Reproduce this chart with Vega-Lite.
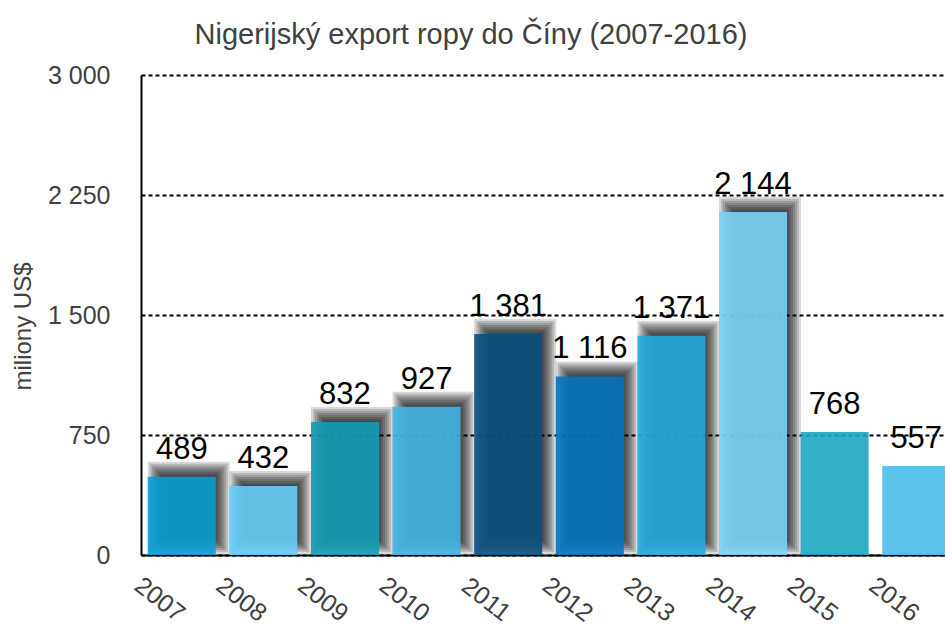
{
  "$schema": "https://vega.github.io/schema/vega-lite/v6.json",
  "width": 804,
  "height": 480,
  "autosize": {"type": "none"},
  "padding": {"left": 141, "top": 75, "right": 0, "bottom": 71},
  "background": "white",
  "title": {
    "text": "Nigerijský export ropy do Číny (2007-2016)",
    "anchor": "middle",
    "frame": "group",
    "dx": -72,
    "dy": 38,
    "offset": 28,
    "baseline": "alphabetic",
    "font": "Liberation Sans",
    "fontSize": 29,
    "fontWeight": "normal",
    "color": "#404040"
  },
  "data": {
    "values": [
      {"year": 2007, "value": 489},
      {"year": 2008, "value": 432},
      {"year": 2009, "value": 832},
      {"year": 2010, "value": 927},
      {"year": 2011, "value": 1381},
      {"year": 2012, "value": 1116},
      {"year": 2013, "value": 1371},
      {"year": 2014, "value": 2144},
      {"year": 2015, "value": 768},
      {"year": 2016, "value": 557}
    ]
  },
  "encoding": {
    "x": {
      "field": "year",
      "type": "ordinal",
      "scale": {"range": [0, 816], "paddingInner": 0.167, "paddingOuter": 0.083},
      "axis": {
        "title": null,
        "labelAngle": 38,
        "labelAlign": "center",
        "labelBaseline": "middle",
        "labelPadding": 44,
        "labelOffset": -22,
        "ticks": false,
        "grid": false,
        "domainColor": "black",
        "domainWidth": 2,
        "labelFont": "Liberation Sans",
        "labelFontSize": 25,
        "labelColor": "#404040"
      }
    },
    "y": {
      "field": "value",
      "type": "quantitative",
      "scale": {"domain": [0, 3000], "nice": false},
      "axis": {
        "values": [0, 750, 1500, 2250, 3000],
        "format": ",d",
        "grid": true,
        "gridColor": "black",
        "gridDash": [4, 3],
        "gridWidth": 2,
        "domain": true,
        "domainColor": "black",
        "domainWidth": 2,
        "ticks": false,
        "labelFont": "Liberation Sans",
        "labelFontSize": 25,
        "labelColor": "#404040",
        "labelPadding": 31,
        "title": "miliony US$",
        "titleFont": "Liberation Sans",
        "titleFontSize": 24,
        "titleFontWeight": "normal",
        "titleColor": "#404040",
        "titleX": -118,
        "titleY": 251,
        "titleAngle": 270,
        "titleAlign": "center",
        "titleBaseline": "middle"
      }
    }
  },
  "layer": [
    {
      "transform": [{"filter": "datum.year <= 2014"}],
      "mark": {"type": "bar", "color": "black", "opacity": 0.15, "width": 82, "xOffset": 7, "yOffset": -15, "y2Offset": -1},
      "encoding": {"y2": {"datum": 0}}
    },
    {
      "transform": [{"filter": "datum.year <= 2014"}],
      "mark": {"type": "bar", "color": "black", "opacity": 0.15, "width": 78, "xOffset": 7, "yOffset": -13, "y2Offset": -3},
      "encoding": {"y2": {"datum": 0}}
    },
    {
      "transform": [{"filter": "datum.year <= 2014"}],
      "mark": {"type": "bar", "color": "black", "opacity": 0.15, "width": 74, "xOffset": 7, "yOffset": -11, "y2Offset": -5},
      "encoding": {"y2": {"datum": 0}}
    },
    {
      "transform": [{"filter": "datum.year <= 2014"}],
      "mark": {"type": "bar", "color": "black", "opacity": 0.15, "width": 70, "xOffset": 7, "yOffset": -9, "y2Offset": -7},
      "encoding": {"y2": {"datum": 0}}
    },
    {
      "transform": [{"filter": "datum.year <= 2014"}],
      "mark": {"type": "bar", "color": "black", "opacity": 0.15, "width": 66, "xOffset": 7, "yOffset": -7, "y2Offset": -9},
      "encoding": {"y2": {"datum": 0}}
    },
    {
      "transform": [{"filter": "datum.year <= 2014"}],
      "mark": {"type": "bar", "color": "black", "opacity": 0.15, "width": 62, "xOffset": 7, "yOffset": -5, "y2Offset": -11},
      "encoding": {"y2": {"datum": 0}}
    },
    {
      "transform": [{"filter": "datum.year <= 2014"}],
      "mark": {"type": "bar", "color": "black", "opacity": 0.15, "width": 58, "xOffset": 7, "yOffset": -3, "y2Offset": -13},
      "encoding": {"y2": {"datum": 0}}
    },
    {
      "transform": [{"filter": "datum.year <= 2014"}],
      "mark": {"type": "bar", "color": "black", "opacity": 0.15, "width": 54, "xOffset": 7, "yOffset": -1, "y2Offset": -15},
      "encoding": {"y2": {"datum": 0}}
    },
    {
      "mark": {"type": "bar", "opacity": 0.9},
      "encoding": {
        "color": {
          "field": "year",
          "type": "ordinal",
          "legend": null,
          "scale": {"range": ["#099fd2", "#65cef6", "#129fb6", "#43b5e6", "#095080", "#0474bc", "#22aada", "#7bd3f7", "#19a7c0", "#49bcea"]}
        }
      }
    },
    {
      "mark": {"type": "text", "baseline": "alphabetic", "dy": -18, "font": "Liberation Sans", "fontSize": 31, "color": "black"},
      "encoding": {"text": {"field": "value", "type": "quantitative", "format": ","}}
    }
  ],
  "config": {
    "view": {"stroke": null},
    "locale": {
      "number": {"decimal": ",", "thousands": " ", "grouping": [3], "currency": ["", " US$"]}
    }
  }
}
